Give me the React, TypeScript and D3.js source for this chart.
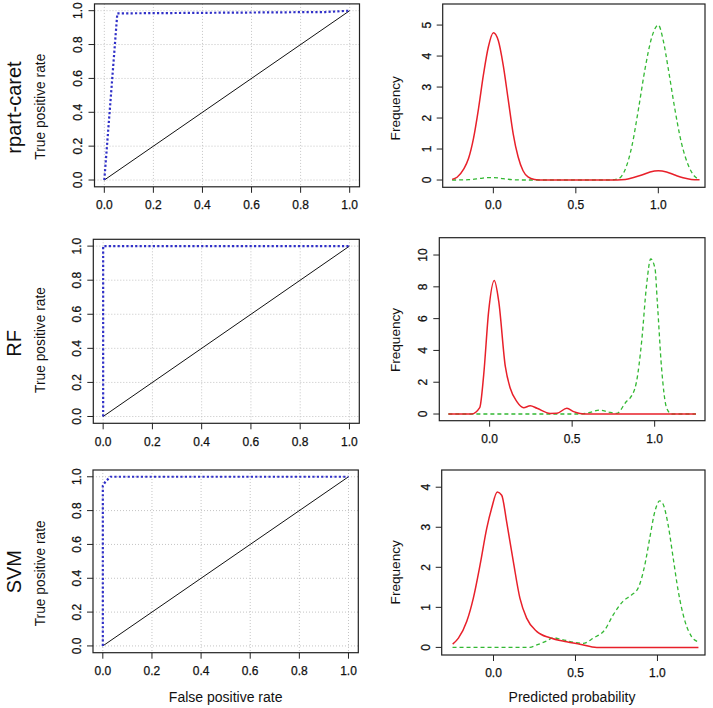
import React from "react";
import * as d3 from "d3";

// ---------- data ----------
const models = ["rpart-caret", "RF", "SVM"];

const rocTicks = [0, 0.2, 0.4, 0.6, 0.8, 1.0];
const rocTickLabels = ["0.0", "0.2", "0.4", "0.6", "0.8", "1.0"];

const rpartFpr = [0, 0.053, 0.9, 1];
const rpartTpr = [0, 0.984, 0.992, 1];
const rfFpr = [0, 0, 1];
const rfTpr = [0, 1, 1];
const svmFpr = [0, 0, 0.011, 0.031, 1];
const svmTpr = [0, 0.947, 0.972, 1, 1];

const densXTicks = [0, 0.5, 1];
const densXTickLabels = ["0.0", "0.5", "1.0"];
const rpartYTicks = [0, 1, 2, 3, 4, 5];
const rfYTicks = [0, 2, 4, 6, 8, 10];
const svmYTicks = [0, 1, 2, 3, 4];

// rpart-caret densities
const rpartNegX = [-0.25, -0.22, -0.18, -0.15, -0.12, -0.09, -0.06, -0.03, 0.0, 0.03, 0.06, 0.09, 0.12, 0.15, 0.18, 0.21, 0.25, 0.3, 0.7, 0.8, 0.85, 0.9, 0.95, 1.0, 1.05, 1.1, 1.15, 1.2, 1.25];
const rpartNegY = [0.02, 0.09, 0.35, 0.7, 1.35, 2.3, 3.4, 4.3, 4.75, 4.5, 3.7, 2.6, 1.5, 0.75, 0.3, 0.1, 0.02, 0.0, 0.0, 0.02, 0.08, 0.16, 0.26, 0.3, 0.26, 0.16, 0.07, 0.02, 0.01];
const rpartPosX = [-0.25, -0.15, -0.08, -0.03, 0.0, 0.04, 0.08, 0.12, 0.2, 0.7, 0.76, 0.8, 0.84, 0.88, 0.92, 0.96, 1.0, 1.03, 1.06, 1.1, 1.14, 1.18, 1.22, 1.25];
const rpartPosY = [0.0, 0.01, 0.05, 0.08, 0.08, 0.06, 0.03, 0.01, 0.0, 0.0, 0.05, 0.35, 1.1, 2.3, 3.6, 4.6, 5.0, 4.5, 3.6, 2.3, 1.2, 0.5, 0.12, 0.03];

// RF densities
const rfNegX = [-0.25, -0.11, -0.06, -0.036, -0.006, 0.028, 0.055, 0.095, 0.125, 0.165, 0.206, 0.246, 0.287, 0.367, 0.408, 0.468, 0.509, 0.547, 0.6, 1.25];
const rfNegY = [0, 0, 0.4, 2.46, 6.46, 8.4, 7.1, 2.99, 1.62, 0.78, 0.4, 0.52, 0.36, 0.04, 0.05, 0.36, 0.15, 0.04, 0, 0];
const rfPosX = [-0.25, 0.55, 0.6, 0.668, 0.72, 0.77, 0.83, 0.85, 0.89, 0.921, 0.951, 0.976, 1.002, 1.016, 1.042, 1.073, 1.103, 1.25];
const rfPosY = [0, 0, 0.08, 0.25, 0.12, 0.04, 0.8, 0.99, 2.03, 4.55, 8.11, 9.75, 9.16, 7.06, 2.87, 0.36, 0, 0];

// SVM densities
const svmNegX = [-0.249, -0.214, -0.163, -0.123, -0.082, -0.041, -0.011, 0.023, 0.05, 0.08, 0.121, 0.161, 0.202, 0.263, 0.344, 0.446, 0.527, 0.63, 1.25];
const svmNegY = [0.08, 0.23, 0.65, 1.23, 2.06, 2.98, 3.48, 3.88, 3.8, 3.14, 2.14, 1.23, 0.73, 0.4, 0.24, 0.14, 0.08, 0, 0];
const svmPosX = [-0.25, 0.222, 0.263, 0.324, 0.364, 0.405, 0.487, 0.547, 0.608, 0.679, 0.73, 0.79, 0.842, 0.882, 0.923, 0.953, 0.984, 1.014, 1.034, 1.065, 1.096, 1.127, 1.168, 1.208, 1.249];
const svmPosY = [0, 0, 0.06, 0.16, 0.24, 0.21, 0.13, 0.1, 0.23, 0.44, 0.81, 1.15, 1.31, 1.48, 2.06, 2.73, 3.39, 3.66, 3.58, 3.06, 2.23, 1.4, 0.65, 0.27, 0.14];

// ---------- layout ----------
const W = 713;
const H = 708;
const FONT = "'Liberation Sans', Arial, Helvetica, sans-serif";

const rocFprs = [rpartFpr, rfFpr, svmFpr];
const rocTprs = [rpartTpr, rfTpr, svmTpr];
const leftBoxes = [
  { x0: 94.5, x1: 359.5, y0: 3.9, y1: 186.8 },
  { x0: 93.3, x1: 359.3, y0: 239.3, y1: 423.3 },
  { x0: 93, x1: 358.3, y0: 470, y1: 652.7 },
];
const modelLabelY = [107.5, 343.3, 571.7];
const tprLabelY = [106.7, 340, 573.3];
const freqLabelY = [108.3, 340, 572.3];

const rightBoxes = [
  { x0: 442.7, x1: 705, y0: 4, y1: 187.3, xd: [-0.307, 1.283], yd: [-0.235, 5.68] },
  { x0: 439.3, x1: 705, y0: 237.7, y1: 420.7, xd: [-0.305, 1.305], yd: [-0.42, 11.09] },
  { x0: 441.7, x1: 705, y0: 470, y1: 655, xd: [-0.316, 1.29], yd: [-0.19, 4.43] },
];
const negXs = [rpartNegX, rfNegX, svmNegX];
const negYs = [rpartNegY, rfNegY, svmNegY];
const posXs = [rpartPosX, rfPosX, svmPosX];
const posYs = [rpartPosY, rfPosY, svmPosY];
const densYTicks = [rpartYTicks, rfYTicks, svmYTicks];

const TICK = 6;
const textColor = "#111";
const boxColor = "#222";
const txtStroke = { stroke: "#111", strokeWidth: 0.25 };

function RocPanel({ i }: { i: number }) {
  const b = leftBoxes[i];
  const x = d3.scaleLinear().domain([-0.04, 1.04]).range([b.x0, b.x1]);
  const y = d3.scaleLinear().domain([-0.04, 1.04]).range([b.y1, b.y0]);
  const line = d3
    .line<[number, number]>()
    .x((d) => x(d[0]))
    .y((d) => y(d[1]));
  const pts: [number, number][] = rocFprs[i].map((f, k) => [f, rocTprs[i][k]]);
  const diag: [number, number][] = [
    [0, 0],
    [1, 1],
  ];
  return (
    <g>
      {rocTicks.map((t) => (
        <g key={"g" + t}>
          <line x1={x(t)} x2={x(t)} y1={b.y0} y2={b.y1} stroke="#c4c4c4" strokeDasharray="1,2" />
          <line x1={b.x0} x2={b.x1} y1={y(t)} y2={y(t)} stroke="#c4c4c4" strokeDasharray="1,2" />
        </g>
      ))}
      <path d={line(diag) || ""} fill="none" stroke="#111" strokeWidth={1} />
      <path d={line(pts) || ""} fill="none" stroke="#3030c8" strokeWidth={2.2} strokeDasharray="2.2,2.2" />
      <rect x={b.x0} y={b.y0} width={b.x1 - b.x0} height={b.y1 - b.y0} fill="none" stroke={boxColor} strokeWidth={1.2} />
      {rocTicks.map((t, k) => (
        <g key={"t" + t}>
          <line x1={x(t)} x2={x(t)} y1={b.y1} y2={b.y1 + TICK} stroke={boxColor} />
          <text x={x(t)} y={b.y1 + 22.5} textAnchor="middle" fontSize={12} fontFamily={FONT} fill={textColor} {...txtStroke}>
            {rocTickLabels[k]}
          </text>
          <line x1={b.x0} x2={b.x0 - TICK} y1={y(t)} y2={y(t)} stroke={boxColor} />
          <text
            transform={`translate(${b.x0 - 12.5},${y(t)}) rotate(-90)`}
            textAnchor="middle"
            fontSize={12}
            fontFamily={FONT}
            fill={textColor}
            {...txtStroke}
          >
            {rocTickLabels[k]}
          </text>
        </g>
      ))}
      <text
        transform={`translate(45,${tprLabelY[i]}) rotate(-90)`}
        textAnchor="middle"
        fontSize={13.8}
        fontFamily={FONT}
        fill={textColor}
      >
        True positive rate
      </text>
      <text
        transform={`translate(20.5,${modelLabelY[i]}) rotate(-90)`}
        textAnchor="middle"
        fontSize={20}
        fontFamily={FONT}
        fill={textColor}
      >
        {models[i]}
      </text>
      {i === 2 && (
        <text x={(b.x0 + b.x1) / 2} y={701.7} textAnchor="middle" fontSize={14} fontFamily={FONT} fill={textColor}>
          False positive rate
        </text>
      )}
    </g>
  );
}

function DensPanel({ i }: { i: number }) {
  const b = rightBoxes[i];
  const x = d3.scaleLinear().domain(b.xd).range([b.x0, b.x1]);
  const y = d3.scaleLinear().domain(b.yd).range([b.y1, b.y0]);
  const line = d3
    .line<[number, number]>()
    .x((d) => x(d[0]))
    .y((d) => y(d[1]))
    .curve(d3.curveMonotoneX);
  const neg: [number, number][] = negXs[i].map((v, k) => [v, negYs[i][k]]);
  const pos: [number, number][] = posXs[i].map((v, k) => [v, posYs[i][k]]);
  return (
    <g>
      <path d={line(pos) || ""} fill="none" stroke="#33b833" strokeWidth={1.3} strokeDasharray="4,3" />
      <path d={line(neg) || ""} fill="none" stroke="#e8202a" strokeWidth={1.5} />
      <rect x={b.x0} y={b.y0} width={b.x1 - b.x0} height={b.y1 - b.y0} fill="none" stroke={boxColor} strokeWidth={1.2} />
      {densXTicks.map((t, k) => (
        <g key={"x" + t}>
          <line x1={x(t)} x2={x(t)} y1={b.y1} y2={b.y1 + TICK} stroke={boxColor} />
          <text x={x(t)} y={b.y1 + 22} textAnchor="middle" fontSize={12} fontFamily={FONT} fill={textColor} {...txtStroke}>
            {densXTickLabels[k]}
          </text>
        </g>
      ))}
      {densYTicks[i].map((t) => (
        <g key={"y" + t}>
          <line x1={b.x0} x2={b.x0 - TICK} y1={y(t)} y2={y(t)} stroke={boxColor} />
          <text
            transform={`translate(${b.x0 - 12},${y(t)}) rotate(-90)`}
            textAnchor="middle"
            fontSize={12}
            fontFamily={FONT}
            fill={textColor}
            {...txtStroke}
          >
            {String(t)}
          </text>
        </g>
      ))}
      <text
        transform={`translate(400,${freqLabelY[i]}) rotate(-90)`}
        textAnchor="middle"
        fontSize={13.6}
        fontFamily={FONT}
        fill={textColor}
      >
        Frequency
      </text>
      {i === 2 && (
        <text x={572} y={701.7} textAnchor="middle" fontSize={14} fontFamily={FONT} fill={textColor}>
          Predicted probability
        </text>
      )}
    </g>
  );
}

export default function App() {
  return (
    <svg
      width={W}
      height={H}
      viewBox={`0 0 ${W} ${H}`}
      style={{ position: "absolute", left: 0, top: 0, background: "#fff" }}
    >
      <rect x={0} y={0} width={W} height={H} fill="#fff" />
      {models.map((m, i) => (
        <g key={m}>
          <RocPanel i={i} />
          <DensPanel i={i} />
        </g>
      ))}
    </svg>
  );
}
